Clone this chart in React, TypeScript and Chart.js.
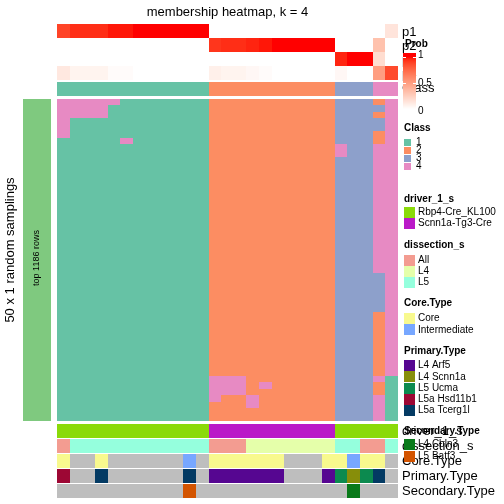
import React, { useEffect, useRef } from "react";
import { Chart, registerables } from "chart.js";
Chart.register(...registerables);

// ---------------- data ----------------
const N_COLS = 27;

// class assignment per random sampling (rows) x sample (columns)
const MEMBERSHIP: string[] = [
  "444441111111" + "2222222222" + "333" + "2" + "4",
  "444411111111" + "2222222222" + "333" + "3" + "4",
  "444411111111" + "2222222222" + "333" + "2" + "4",
  "411111111111" + "2222222222" + "333" + "3" + "4",
  "411111111111" + "2222222222" + "333" + "3" + "4",
  "411111111111" + "2222222222" + "333" + "2" + "4",
  "111114111111" + "2222222222" + "333" + "2" + "4",
  "111111111111" + "2222222222" + "433" + "4" + "4",
  "111111111111" + "2222222222" + "433" + "4" + "4",
  "111111111111" + "2222222222" + "333" + "4" + "4",
  "111111111111" + "2222222222" + "333" + "4" + "4",
  "111111111111" + "2222222222" + "333" + "4" + "4",
  "111111111111" + "2222222222" + "333" + "4" + "4",
  "111111111111" + "2222222222" + "333" + "4" + "4",
  "111111111111" + "2222222222" + "333" + "4" + "4",
  "111111111111" + "2222222222" + "333" + "4" + "4",
  "111111111111" + "2222222222" + "333" + "4" + "4",
  "111111111111" + "2222222222" + "333" + "4" + "4",
  "111111111111" + "2222222222" + "333" + "4" + "4",
  "111111111111" + "2222222222" + "333" + "4" + "4",
  "111111111111" + "2222222222" + "333" + "4" + "4",
  "111111111111" + "2222222222" + "333" + "4" + "4",
  "111111111111" + "2222222222" + "333" + "4" + "4",
  "111111111111" + "2222222222" + "333" + "4" + "4",
  "111111111111" + "2222222222" + "333" + "4" + "4",
  "111111111111" + "2222222222" + "333" + "4" + "4",
  "111111111111" + "2222222222" + "333" + "4" + "4",
  "111111111111" + "2222222222" + "333" + "3" + "4",
  "111111111111" + "2222222222" + "333" + "3" + "4",
  "111111111111" + "2222222222" + "333" + "3" + "4",
  "111111111111" + "2222222222" + "333" + "3" + "4",
  "111111111111" + "2222222222" + "333" + "3" + "4",
  "111111111111" + "2222222222" + "333" + "3" + "4",
  "111111111111" + "2222222222" + "333" + "2" + "4",
  "111111111111" + "2222222222" + "333" + "2" + "4",
  "111111111111" + "2222222222" + "333" + "2" + "4",
  "111111111111" + "2222222222" + "333" + "2" + "4",
  "111111111111" + "2222222222" + "333" + "2" + "4",
  "111111111111" + "2222222222" + "333" + "2" + "4",
  "111111111111" + "2222222222" + "333" + "2" + "4",
  "111111111111" + "2222222222" + "333" + "2" + "4",
  "111111111111" + "2222222222" + "333" + "2" + "4",
  "111111111111" + "2222222222" + "333" + "2" + "4",
  "111111111111" + "4442222222" + "333" + "4" + "1",
  "111111111111" + "4442422222" + "333" + "2" + "1",
  "111111111111" + "4442222222" + "333" + "2" + "1",
  "111111111111" + "4224222222" + "333" + "4" + "1",
  "111111111111" + "2224222222" + "333" + "4" + "1",
  "111111111111" + "2222222222" + "333" + "4" + "1",
  "111111111111" + "2222222222" + "333" + "4" + "1",
];

const P1 = [0.88, 0.94, 0.94, 0.94, 0.98, 0.98, 1, 1, 1, 1, 1, 1, 0, 0, 0, 0, 0, 0, 0, 0, 0, 0, 0, 0, 0, 0, 0.14];
const P2 = [0, 0, 0, 0, 0, 0, 0, 0, 0, 0, 0, 0, 0.92, 0.94, 0.94, 0.96, 0.98, 1, 1, 1, 1, 1, 0, 0, 0, 0.32, 0];
const P3 = [0, 0, 0, 0, 0, 0, 0, 0, 0, 0, 0, 0, 0, 0, 0, 0, 0, 0, 0, 0, 0, 0, 0.96, 1, 1, 0.18, 0];
const P4 = [0.12, 0.06, 0.06, 0.06, 0.02, 0.02, 0, 0, 0, 0, 0, 0, 0.08, 0.06, 0.06, 0.04, 0.02, 0, 0, 0, 0, 0, 0.04, 0, 0, 0.5, 0.86];
const CLASS = ["1","1","1","1","1","1","1","1","1","1","1","1","2","2","2","2","2","2","2","2","2","2","3","3","3","4","4"];

const R = "Rbp4-Cre_KL100", S = "Scnn1a-Tg3-Cre";
const DRIVER = [R,R,R,R,R,R,R,R,R,R,R,R,S,S,S,S,S,S,S,S,S,S,R,R,R,R,R];
const DISSECTION = ["All","L5","L5","L5","L5","L5","L5","L5","L5","L5","L5","L5","All","All","All","L4","L4","L4","L4","L4","L4","L4","L5","L5","All","All","L5"];
const CORE = ["Core",null,null,"Core",null,null,null,null,null,null,"Intermediate",null,"Core","Core","Core","Core","Core","Core",null,null,null,"Core","Core","Intermediate","Core","Core",null];
const PRIMARY = ["L5a Hsd11b1",null,null,"L5a Tcerg1l",null,null,null,null,null,null,"L5a Tcerg1l",null,"L4 Arf5","L4 Arf5","L4 Arf5","L4 Arf5","L4 Arf5","L4 Arf5",null,null,null,"L4 Arf5","L5 Ucma","L4 Scnn1a","L5 Ucma","L5a Tcerg1l",null];
const SECONDARY = [null,null,null,null,null,null,null,null,null,null,"L5 Batf3",null,null,null,null,null,null,null,null,null,null,null,null,"L4 Cbln3",null,null,null];

const CLASS_LEVELS = ["1", "2", "3", "4"];
const DRIVER_LEVELS = [R, S];
const DISSECTION_LEVELS = ["All", "L4", "L5"];
const CORE_LEVELS = ["Core", "Intermediate"];
const PRIMARY_LEVELS = ["L4 Arf5", "L4 Scnn1a", "L5 Ucma", "L5a Hsd11b1", "L5a Tcerg1l"];
const SECONDARY_LEVELS = ["L4 Cbln3", "L5 Batf3"];
const PROB_TICKS = [0, 0.5, 1];

// ---------------- styles ----------------
const CLASS_COLORS: Record<string, string> = { "1": "#66C2A5", "2": "#FC8D62", "3": "#8DA0CB", "4": "#E78AC3" };
const DRIVER_COLORS: Record<string, string> = { [R]: "#8ADA09", [S]: "#BA19C8" };
const DISSECTION_COLORS: Record<string, string> = { All: "#F39C91", L4: "#E5FFAA", L5: "#95FFDD" };
const CORE_COLORS: Record<string, string> = { Core: "#F8F98E", Intermediate: "#77A7FF" };
const PRIMARY_COLORS: Record<string, string> = {
  "L4 Arf5": "#560691", "L4 Scnn1a": "#878E0A", "L5 Ucma": "#0C8A4F",
  "L5a Hsd11b1": "#9D0734", "L5a Tcerg1l": "#033A63",
};
const SECONDARY_COLORS: Record<string, string> = { "L4 Cbln3": "#097A1A", "L5 Batf3": "#D35400" };
const NA_COLOR = "#BEBEBE";
const FONT = '"Liberation Sans", Arial, Helvetica, sans-serif';

// LAB interpolation white -> red
function toLin(c: number) { c /= 255; return c <= 0.04045 ? c / 12.92 : Math.pow((c + 0.055) / 1.055, 2.4); }
function fromLin(c: number) { c = c <= 0.0031308 ? 12.92 * c : 1.055 * Math.pow(c, 1 / 2.4) - 0.055; return Math.round(Math.max(0, Math.min(1, c)) * 255); }
function rgb2lab(r: number, g: number, b: number) {
  const R1 = toLin(r), G1 = toLin(g), B1 = toLin(b);
  const X = (0.4124 * R1 + 0.3576 * G1 + 0.1805 * B1) / 0.95047;
  const Y = 0.2126 * R1 + 0.7152 * G1 + 0.0722 * B1;
  const Z = (0.0193 * R1 + 0.1192 * G1 + 0.9505 * B1) / 1.08883;
  const f = (t: number) => (t > 0.008856 ? Math.cbrt(t) : 7.787 * t + 16 / 116);
  const fx = f(X), fy = f(Y), fz = f(Z);
  return [116 * fy - 16, 500 * (fx - fy), 200 * (fy - fz)];
}
function lab2rgb(L: number, a: number, b: number) {
  const fy = (L + 16) / 116, fx = fy + a / 500, fz = fy - b / 200;
  const inv = (t: number) => (t * t * t > 0.008856 ? t * t * t : (t - 16 / 116) / 7.787);
  const X = inv(fx) * 0.95047, Y = inv(fy), Z = inv(fz) * 1.08883;
  const r = 3.2406 * X - 1.5372 * Y - 0.4986 * Z;
  const g = -0.9689 * X + 1.8758 * Y + 0.0415 * Z;
  const bb = 0.0557 * X - 0.204 * Y + 1.057 * Z;
  return `rgb(${fromLin(r)},${fromLin(g)},${fromLin(bb)})`;
}
const LAB_W = rgb2lab(255, 255, 255), LAB_R = rgb2lab(255, 0, 0);
function probColor(t: number) {
  t = Math.max(0, Math.min(1, t));
  return lab2rgb(LAB_W[0] + (LAB_R[0] - LAB_W[0]) * t, LAB_W[1] + (LAB_R[1] - LAB_W[1]) * t, LAB_W[2] + (LAB_R[2] - LAB_W[2]) * t);
}

const heatPlugin = {
  id: "membershipHeat",
  afterDraw(chart: any) {
    const ctx: CanvasRenderingContext2D = chart.ctx;
    const xs = chart.scales.x, ys = chart.scales.y;
    const area = chart.chartArea;
    const cx = (c: number) => {
      const a = Math.round(xs.getPixelForValue(c)), b = Math.round(xs.getPixelForValue(c + 1));
      return [a, b - a];
    };
    const rect = (x: number, y: number, w: number, h: number, col: string) => { ctx.fillStyle = col; ctx.fillRect(x, y, w, h); };
    const text = (s: string, x: number, y: number, size: number, opts: any = {}) => {
      ctx.font = `${opts.bold ? "bold " : ""}${size}px ${FONT}`;
      ctx.fillStyle = "#000";
      ctx.textAlign = opts.align || "left";
      ctx.textBaseline = "middle";
      ctx.fillText(s, x, y);
    };
    ctx.save();

    // heatmap cells
    MEMBERSHIP.forEach((row, r) => {
      const y0 = Math.round(ys.getPixelForValue(r)), y1 = Math.round(ys.getPixelForValue(r + 1));
      for (let c = 0; c < N_COLS; c++) {
        const [x, w] = cx(c);
        rect(x, y0, w, y1 - y0, CLASS_COLORS[row[c]]);
      }
    });

    // top annotation
    const top = area.top;
    const probRows = [P1, P2, P3, P4];
    probRows.forEach((vals, i) => {
      const y = top - 75 + i * 14;
      for (let c = 0; c < N_COLS; c++) { const [x, w] = cx(c); rect(x, y, w, 14, probColor(vals[c])); }
    });
    for (let c = 0; c < N_COLS; c++) { const [x, w] = cx(c); rect(x, top - 17, w, 14, CLASS_COLORS[CLASS[c]]); }

    // bottom annotation
    const bot = area.bottom + 3;
    const bottomRows: [any[], Record<string, string>][] = [
      [DRIVER, DRIVER_COLORS], [DISSECTION, DISSECTION_COLORS], [CORE, CORE_COLORS],
      [PRIMARY, PRIMARY_COLORS], [SECONDARY, SECONDARY_COLORS],
    ];
    bottomRows.forEach(([vals, cols], i) => {
      const y = bot + i * 15;
      for (let c = 0; c < N_COLS; c++) { const [x, w] = cx(c); rect(x, y, w, 14, vals[c] ? cols[vals[c]] : NA_COLOR); }
    });

    // left bar
    rect(area.left - 34, area.top, 28, area.bottom - area.top, "#7FC97F");
    ctx.save();
    ctx.translate(area.left - 20, (area.top + area.bottom) / 2 - 2);
    ctx.rotate(-Math.PI / 2);
    text("top 1186 rows", 0, 0, 9, { align: "center" });
    ctx.restore();
    ctx.save();
    ctx.translate(10, 250);
    ctx.rotate(-Math.PI / 2);
    text("50 x 1 random samplings", 0, 0, 13, { align: "center" });
    ctx.restore();

    // title
    text("membership heatmap, k = 4", (area.left + area.right) / 2, 12, 13, { align: "center" });

    // annotation names
    const lx = area.right + 4;
    ["p1", "p2", "p3", "p4", "Class"].forEach((s, i) => text(s, lx, top - 67 + i * 14 + (i === 4 ? 0 : 0), 13));
    ["driver_1_s", "dissection_s", "Core.Type", "Primary.Type", "Secondary.Type"].forEach((s, i) => text(s, lx, bot + 7 + i * 15, 13));

    // Prob legend
    const gx = 403, gTop = 53, gBot = 110, v1 = 57, v0 = 109;
    text("Prob", 405, 44.5, 10, { bold: true });
    for (let y = gTop; y < gBot; y++) {
      rect(gx, y, 13, 1, probColor((v0 - (y + 0.5)) / (v0 - v1)));
    }
    ctx.fillStyle = "#fff";
    PROB_TICKS.forEach((t) => {
      const y = Math.round(v0 - t * (v0 - v1));
      ctx.fillRect(gx, y, 3, 1); ctx.fillRect(gx + 10, y, 3, 1);
    });
    const tickLabelY = [111, 83, 55];
    PROB_TICKS.forEach((t, i) => text(String(t), 418, tickLabelY[i], 10));

    // discrete legends
    const legend = (title: string, titleY: number, levels: string[], cols: Record<string, string>, firstY: number, pitch: number, sq: number, tx: number) => {
      text(title, 404, titleY, 10, { bold: true });
      levels.forEach((lv, i) => {
        const cyy = firstY + i * pitch;
        rect(404, Math.round(cyy - sq / 2), sq === 7 ? 7 : 11, sq, cols[lv]);
        text(lv, tx, cyy, 10);
      });
    };
    legend("Class", 128, CLASS_LEVELS, CLASS_COLORS, 142.5, 8, 7, 416);
    legend("driver_1_s", 199, DRIVER_LEVELS, DRIVER_COLORS, 212.5, 11, 11, 418);
    legend("dissection_s", 245, DISSECTION_LEVELS, DISSECTION_COLORS, 260, 11, 11, 418);
    legend("Core.Type", 303, CORE_LEVELS, CORE_COLORS, 318.5, 11.3, 11, 418);
    legend("Primary.Type", 351, PRIMARY_LEVELS, PRIMARY_COLORS, 365.5, 11.3, 11, 418);
    legend("Secondary.Type", 431, SECONDARY_LEVELS, SECONDARY_COLORS, 444.5, 11.5, 11, 418);

    ctx.restore();
  },
};

export default function App() {
  const ref = useRef<HTMLCanvasElement | null>(null);
  useEffect(() => {
    document.body.style.margin = "0";
    const canvas = ref.current!;
    const chart = new Chart(canvas, {
      type: "scatter",
      data: { datasets: [{ data: [] }] },
      options: {
        animation: false,
        responsive: false,
        maintainAspectRatio: false,
        devicePixelRatio: 1,
        layout: { padding: { left: 57, right: 106, top: 99, bottom: 83 } },
        plugins: { legend: { display: false }, tooltip: { enabled: false }, title: { display: false } },
        scales: {
          x: { type: "linear", min: 0, max: N_COLS, display: false },
          y: { type: "linear", min: 0, max: MEMBERSHIP.length, reverse: true, display: false },
        },
      },
      plugins: [heatPlugin],
    });
    return () => chart.destroy();
  }, []);
  return (
    <div style={{ position: "fixed", left: 0, top: 0, width: 504, height: 504, background: "#fff" }}>
      <canvas ref={ref} width={504} height={504} style={{ display: "block", width: 504, height: 504 }} />
    </div>
  );
}
